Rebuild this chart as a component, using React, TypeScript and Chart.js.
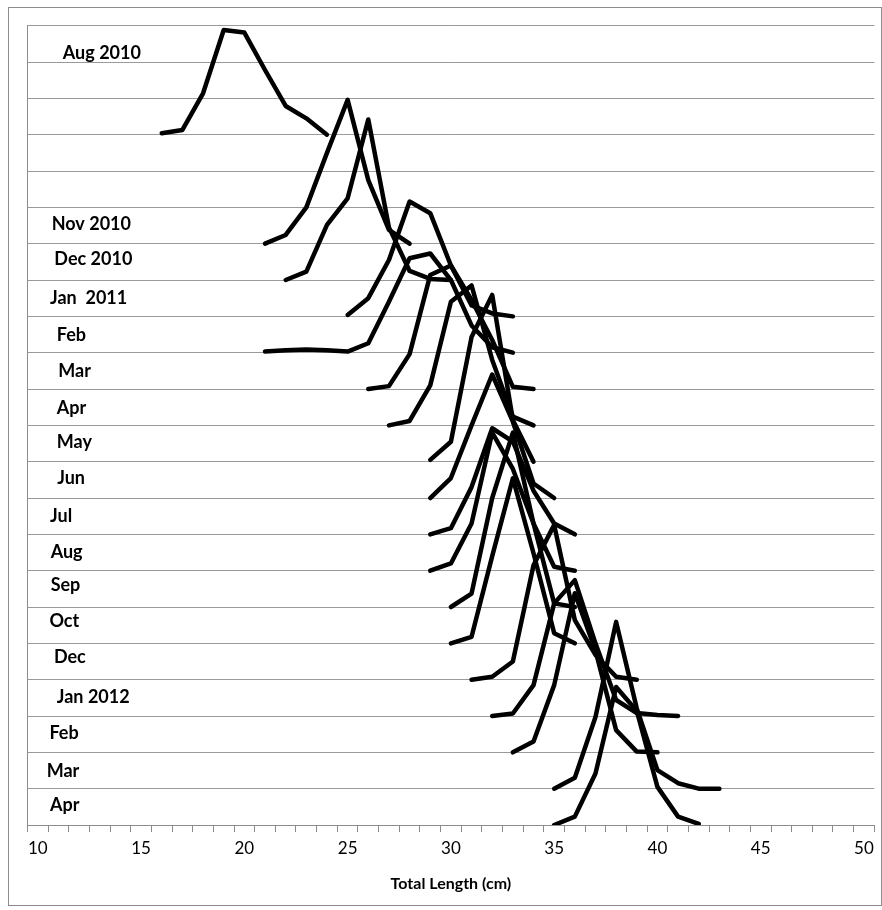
import React, { useEffect, useRef } from 'react';
import { Chart, registerables } from 'chart.js';

Chart.register(...registerables);

// Row labels (month of sampling), the row baseline (grid row index) and first length class (cm)
const seriesNames = ['Aug 2010', 'Nov 2010', 'Dec 2010', 'Jan  2011', 'Feb', 'Mar', 'Apr', 'May', 'Jun', 'Jul', 'Aug', 'Sep', 'Oct', 'Dec', 'Jan 2012', 'Feb', 'Mar', 'Apr'];
const baselines = [19, 16, 15, 14, 13, 12, 11, 10, 9, 8, 7, 6, 5, 4, 3, 2, 1, 0];
const startLengths = [16, 21, 22, 25, 21, 26, 27, 29, 29, 29, 29, 30, 30, 31, 32, 33, 35, 35];

// Relative frequency per 1 cm length class (in row-height units), starting at startLengths
const aug2010 = [0.04, 0.13, 1.14, 2.88, 2.81, 1.78, 0.79, 0.45, 0];
const nov2010 = [0, 0.24, 1.0, 2.5, 3.96, 1.75, 0.38, 0];
const dec2010 = [0, 0.23, 1.52, 2.25, 4.42, 1.45, 0.25, 0.03, 0];
const jan2011 = [0.04, 0.5, 1.55, 3.16, 2.84, 1.4, 0.3, 0.08, 0];
const feb2011 = [0.03, 0.07, 0.09, 0.07, 0.03, 0.26, 1.4, 2.6, 2.73, 2.0, 0.75, 0.15, 0];
const mar2011 = [0, 0.08, 0.96, 3.14, 3.4, 2.45, 1.35, 0.06, 0];
const apr2011 = [0, 0.12, 1.1, 3.4, 3.85, 1.8, 0.24, 0];
const may2011 = [0.05, 0.55, 3.43, 4.59, 1.15, 0];
const jun2011 = [0, 0.55, 2.0, 3.4, 2.1, 0.4, 0];
const jul2011 = [0, 0.17, 1.3, 2.92, 2.55, 1.2, 0.3, 0];
const aug2011 = [0, 0.2, 1.3, 3.8, 2.8, 1.3, 0.11, 0];
const sep2011 = [0, 0.37, 3.0, 4.8, 2.3, 0.1, 0];
const oct2011 = [0, 0.18, 2.4, 4.54, 2.48, 0.28, 0];
const dec2011 = [0, 0.08, 0.5, 3.15, 4.26, 1.64, 0.68, 0.08, 0];
const jan2012 = [0, 0.07, 0.85, 3.1, 3.74, 2.0, 0.44, 0.08, 0.03, 0];
const feb2012 = [0, 0.3, 1.85, 4.38, 2.8, 0.61, 0.02, 0];
const mar2012 = [0, 0.3, 1.97, 4.59, 2.21, 0.51, 0.15, 0, 0];
const apr2012 = [0, 0.23, 1.42, 3.8, 3.14, 1.05, 0.23, 0.03];

const seriesValues = [aug2010, nov2010, dec2010, jan2011, feb2011, mar2011, apr2011, may2011, jun2011, jul2011, aug2011, sep2011, oct2011, dec2011, jan2012, feb2012, mar2012, apr2012];

// Row label anchor (left edge in cm, vertical in row units)
const labelX = [11.21, 10.67, 10.8, 10.59, 10.92, 10.99, 10.92, 10.92, 10.94, 10.59, 10.62, 10.62, 10.56, 10.78, 10.92, 10.56, 10.43, 10.59];
const labelY = [21.24, 16.54, 15.57, 14.5, 13.49, 12.48, 11.48, 10.55, 9.54, 8.49, 7.51, 6.61, 5.62, 4.61, 3.53, 2.54, 1.47, 0.55];

// X axis: labelled values and category boundary tick marks
const xLabelValues = [10, 15, 20, 25, 30, 35, 40, 45, 50];
const xMin = 9.5;
const xMax = 50.5;
const rowCount = 22;

const GRID = '#9a9a9a';
const AXIS = '#8c8c8c';

const rowLabelPlugin = {
  id: 'rowLabels',
  afterDatasetsDraw(chart: any) {
    const { ctx, scales } = chart;
    const xs = scales.x;
    const ys = scales.y;
    ctx.save();
    ctx.font = 'bold 18px Lato';
    ctx.fillStyle = '#000';
    ctx.textBaseline = 'middle';
    ctx.textAlign = 'left';
    seriesNames.forEach((name, i) => {
      ctx.fillText(name, xs.getPixelForValue(labelX[i]), ys.getPixelForValue(labelY[i]));
    });
    ctx.restore();
  },
};

export default function App() {
  const ref = useRef<HTMLCanvasElement>(null);

  useEffect(() => {
    const canvas = ref.current;
    if (!canvas) return;
    const datasets = seriesValues.map((vals, i) => ({
      label: seriesNames[i],
      data: vals.map((v, k) => ({ x: startLengths[i] + k, y: baselines[i] + v })),
      borderColor: '#000',
      backgroundColor: '#000',
      borderWidth: 4.5,
      pointRadius: 0,
      fill: false,
      tension: 0,
      borderJoinStyle: 'round' as const,
      borderCapStyle: 'round' as const,
    }));

    const markTicks: number[] = [];
    for (let v = xMin; v <= xMax + 1e-9; v += 1) markTicks.push(v);
    const allTicks = [...markTicks, ...xLabelValues].sort((a, b) => a - b);

    const chart = new Chart(canvas, {
      type: 'line',
      data: { datasets },
      options: {
        animation: false,
        responsive: false,
        layout: { padding: { left: 8.5, top: 17.7, right: 6.7, bottom: 0 } },
        plugins: { legend: { display: false }, tooltip: { enabled: false } },
        scales: {
          x: {
            type: 'linear',
            min: xMin,
            max: xMax,
            afterBuildTicks: (s: any) => {
              s.ticks = allTicks.map((v) => ({ value: v }));
            },
            afterFit: (s: any) => {
              s.height = 80;
            },
            grid: {
              drawOnChartArea: false,
              tickLength: 7,
              lineWidth: 1,
              tickColor: (c: any) => (c.tick && Number.isInteger(c.tick.value) ? 'rgba(0,0,0,0)' : AXIS),
            },
            border: { color: AXIS, width: 1 },
            ticks: {
              autoSkip: false,
              maxRotation: 0,
              minRotation: 0,
              padding: 6,
              color: '#000',
              font: { family: 'Lato', size: 17 },
              callback: (v: any) => (Number.isInteger(v) ? String(v) : ''),
            },
            title: {
              display: true,
              text: 'Total Length (cm)',
              color: '#000',
              font: { family: 'Lato', size: 16, weight: 'bold' },
              padding: { top: 0, bottom: 11.4 },
            },
          },
          y: {
            type: 'linear',
            min: 0,
            max: rowCount,
            afterFit: (s: any) => {
              s.width = 10;
            },
            ticks: { display: false, stepSize: 1 },
            grid: { color: GRID, lineWidth: 1, drawTicks: false },
            border: { color: AXIS, width: 1 },
          },
        },
      },
      plugins: [rowLabelPlugin],
    } as any);
    return () => chart.destroy();
  }, []);

  return (
    <div
      style={{
        position: 'absolute',
        left: 8,
        top: 7,
        width: 872,
        height: 897,
        border: '1px solid #8c8c8c',
        background: '#fff',
      }}
    >
      <canvas ref={ref} width={872} height={897} style={{ display: 'block' }} />
    </div>
  );
}
